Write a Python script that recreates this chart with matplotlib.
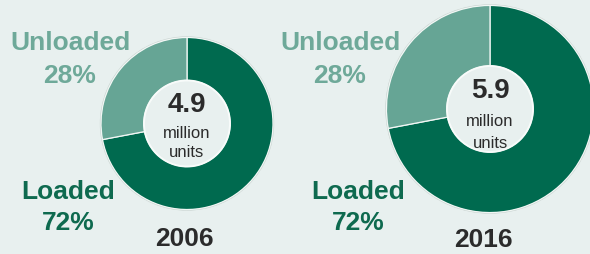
import matplotlib.pyplot as plt
from matplotlib.patches import Circle

# data
years = ["2006", "2016"]
totals = [4.9, 5.9]          # million units
categories = ["Loaded", "Unloaded"]
shares = [72, 28]            # percent, same split both years

# style
bg = "#e8f0ef"
colors = ["#006a4f", "#66a595"]
label_colors = ["#0e6a4f", "#6ea999"]
dark = "#2b2b2b"
plt.rcParams["font.family"] = ["Liberation Sans", "DejaVu Sans"]

# layout in pixel coordinates (y up)
centers = [(187, 130.5), (490, 145)]
px_per_million = 17.55
hole = 43
unloaded_pos = [(70, 212), (340, 212)]
loaded_pos = [(68, 63), (358, 63)]
year_pos = [(184, 16), (483, 15)]
center_offsets = [(19, -9, -28), (18.5, -12, -33)]

fig = plt.figure(figsize=(5.9, 2.55), dpi=100, facecolor=bg)
ax = fig.add_axes([0, 0, 1, 1])
ax.set_facecolor(bg)

for i in range(len(years)):
    cx, cy = centers[i]
    r = totals[i] * px_per_million
    # outer light rim
    ax.add_patch(Circle((cx, cy), r + 0.6, facecolor="none", edgecolor="#c9d3d0",
                        linewidth=0.8, zorder=0.5))
    ax.pie(shares, center=(cx, cy), radius=r, startangle=90, counterclock=False,
           colors=colors,
           wedgeprops=dict(width=r - hole, edgecolor="#f2f7f5", linewidth=0.9))
    ax.add_patch(Circle((cx, cy), hole, facecolor=bg, edgecolor="#f8fbfa",
                        linewidth=1.4, zorder=3))

    # centre text
    o1, o2, o3 = center_offsets[i]
    ax.text(cx, cy + o1, f"{totals[i]:.1f}", ha="center", va="center",
            fontsize=20, fontweight="bold", color=dark, zorder=4)
    ax.text(cx, cy + o2, "million", ha="center", va="center",
            fontsize=12, color=dark, zorder=4)
    ax.text(cx, cy + o3, "units", ha="center", va="center",
            fontsize=12, color=dark, zorder=4)

    # category labels
    ux, uy = unloaded_pos[i]
    ax.text(ux, uy, categories[1], ha="center", va="center", fontsize=19,
            fontweight="bold", color=label_colors[1])
    ax.text(ux, uy - 33, f"{shares[1]}%", ha="center", va="center", fontsize=19,
            fontweight="bold", color=label_colors[1])
    lx, ly = loaded_pos[i]
    ax.text(lx, ly, categories[0], ha="center", va="center", fontsize=19,
            fontweight="bold", color=label_colors[0])
    ax.text(lx, ly - 31, f"{shares[0]}%", ha="center", va="center", fontsize=19,
            fontweight="bold", color=label_colors[0])

    yx, yy = year_pos[i]
    ax.text(yx, yy, years[i], ha="center", va="center", fontsize=19,
            fontweight="bold", color=dark)

ax.set_xlim(0, 590)
ax.set_ylim(0, 255)
ax.set_aspect("auto")
ax.axis("off")

fig.savefig("out.png", dpi=100, facecolor=bg)
